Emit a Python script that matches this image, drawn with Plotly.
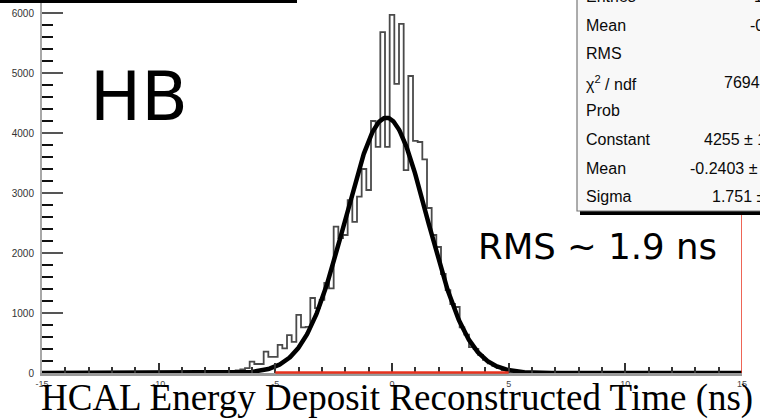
import numpy as np
import plotly.graph_objects as go

# Reconstructed-time histogram: 0.2 ns bins, first bin starts at -7.3 ns
bin_start = -7.3
bin_width = 0.2
counts = [
    10, 25, 35, 45, 60, 80,            # -7.2 .. -6.2
    190, 150, 150, 355, 270, 270,      # -6.0 .. -5.0
    470, 410, 630, 520, 970, 760,      # -4.8 .. -3.8
    770, 1250, 1080, 1220, 1500, 1410, # -3.6 .. -2.6
    2440, 2250, 2300, 2880, 2520, 2940,# -2.4 .. -1.4
    3400, 3050, 4200, 3770, 5680, 3770,# -1.2 .. -0.2
    5970, 4820, 5820, 3380, 4950, 3870,#  0.0 ..  1.0
    3850, 3560, 2750, 2300, 2100, 1650,#  1.2 ..  2.2
    1380, 1150, 1100, 760, 640, 430,   #  2.4 ..  3.4
    400, 300, 220, 160, 120, 80,       #  3.6 ..  4.6
    50, 30, 20, 10,                    #  4.8 ..  5.4
]

# Gaussian fit parameters
fit_constant = 4255
fit_mean = -0.2403
fit_sigma = 1.751

# Stat box rows
stat_labels = ["Entries", "Mean", "RMS", "χ<sup>2</sup> / ndf", "Prob",
               "Constant", "Mean", "Sigma"]
stat_values = ["1.027e+05", "-0.2591", "1.912", "7694 / 97", "0",
               "4255 ± 17.4", "-0.2403 ± 0.0058", "1.751 ± 0.004"]
stat_value_px = [752, 748, 790, 722, 800, 702, 688, 710]

x_ticks = [-15, -10, -5, 0, 5, 10, 15]
y_ticks = [0, 1000, 2000, 3000, 4000, 5000, 6000]

W, H = 760, 419
ML, MR, MT, MB = 42, 18, 0, 46
PW, PH = W - ML - MR, H - MT - MB
Y_TOP = 6217


def px_x(p):
    return (p - ML) / PW


def px_y(p):
    return (MT + PH - p) / PH


edges = bin_start + bin_width * np.arange(len(counts) + 1)
step_x = [edges[0]] + list(edges[:-1]) + [edges[-1], edges[-1]]
step_y = [0] + counts + [counts[-1], 0]

fx = np.linspace(-15, 15, 1201)
fy = fit_constant * np.exp(-0.5 * ((fx - fit_mean) / fit_sigma) ** 2)

fig = go.Figure()
fig.add_trace(go.Scatter(x=step_x, y=step_y, mode="lines", line_shape="hv",
                         line=dict(color="#4a4a4a", width=1.8),
                         hoverinfo="skip", showlegend=False, cliponaxis=False))
fig.add_trace(go.Scatter(x=fx, y=fy, mode="lines",
                         line=dict(color="black", width=4.5),
                         hoverinfo="skip", showlegend=False, cliponaxis=False))

shapes = [
    # fit-range marker along the baseline and right frame edge
    dict(type="line", xref="x", yref="paper", x0=-5, x1=5,
         y0=px_y(372.5), y1=px_y(372.5),
         line=dict(color="#e8321e", width=2.5), layer="above"),
    dict(type="line", xref="x", yref="paper", x0=15, x1=15, y0=0, y1=1,
         line=dict(color="#e8321e", width=1.5), layer="above"),
    # title box edge at the top
    dict(type="line", xref="paper", yref="paper", x0=px_x(0), x1=px_x(297),
         y0=px_y(1.5), y1=px_y(1.5), line=dict(color="black", width=3),
         layer="above"),
    # stats box shadow and box
    dict(type="rect", xref="paper", yref="paper", x0=px_x(580), x1=px_x(810),
         y0=px_y(215), y1=px_y(-20), fillcolor="black",
         line=dict(width=0), layer="above"),
    dict(type="rect", xref="paper", yref="paper", x0=px_x(577), x1=px_x(806),
         y0=px_y(211), y1=px_y(-20), fillcolor="#f8f8f8",
         line=dict(color="#777", width=1.2), layer="above"),
]

annotations = [
    dict(text="HB", x=px_x(88), y=px_y(97), xref="paper", yref="paper",
         xanchor="left", yanchor="middle", showarrow=False,
         font=dict(family="DejaVu Sans", size=68, color="black")),
    dict(text="RMS ~ 1.9 ns", x=px_x(476), y=px_y(246), xref="paper",
         yref="paper", xanchor="left", yanchor="middle", showarrow=False,
         font=dict(family="DejaVu Sans", size=35.5, color="black")),
    dict(text="HCAL Energy Deposit Reconstructed Time (ns)", x=px_x(397),
         y=px_y(398), xref="paper", yref="paper", xanchor="center",
         yanchor="middle", showarrow=False,
         font=dict(family="Liberation Serif", size=37, color="black")),
]

row_y0, row_dy = -3, 28.5
stat_font = dict(family="Liberation Sans", size=16, color="#0a0a0a")
for i, (lab, val) in enumerate(zip(stat_labels, stat_values)):
    yy = px_y(row_y0 + i * row_dy)
    annotations.append(dict(text=lab, x=px_x(584), y=yy, xref="paper",
                            yref="paper", xanchor="left", yanchor="middle",
                            showarrow=False, font=stat_font))
    annotations.append(dict(text=val, x=px_x(stat_value_px[i]), y=yy,
                            xref="paper", yref="paper", xanchor="left",
                            yanchor="middle", showarrow=False,
                            font=stat_font))

fig.update_layout(
    width=W, height=H, autosize=False,
    margin=dict(l=ML, r=MR, t=MT, b=MB, pad=0),
    paper_bgcolor="white", plot_bgcolor="white",
    shapes=shapes, annotations=annotations,
    xaxis=dict(range=[-15, 15], tickmode="array", tickvals=x_ticks,
               ticktext=[str(v) for v in x_ticks],
               ticks="inside", ticklen=10, tickwidth=1.5, tickcolor="#333",
               minor=dict(dtick=1, ticks="inside", ticklen=6, tickwidth=1.5,
                          tickcolor="#333"),
               showline=True, linecolor="#9a9a9a", linewidth=3,
               showgrid=False, zeroline=False,
               tickfont=dict(family="Liberation Sans", size=9, color="#444")),
    yaxis=dict(range=[0, Y_TOP], tickmode="array", tickvals=y_ticks,
               ticktext=[str(v) for v in y_ticks],
               ticks="inside", ticklen=21, tickwidth=2, tickcolor="#555",
               minor=dict(dtick=200, ticks="inside", ticklen=11, tickwidth=2,
                          tickcolor="#111"),
               showline=True, linecolor="#a8a8a8", linewidth=2,
               showgrid=False, zeroline=False, ticklabelstandoff=4,
               tickfont=dict(family="Liberation Sans", size=10,
                             color="#333")),
)

fig.write_html("out.html")
